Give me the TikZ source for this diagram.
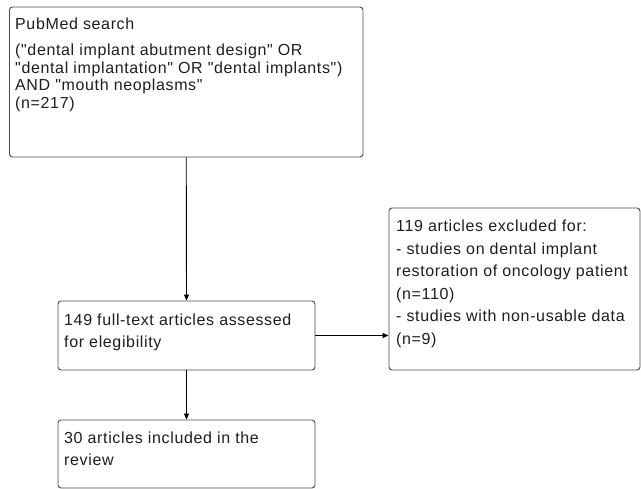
\documentclass[tikz,border=0pt]{standalone}
\usepackage{fontspec}
\newfontfamily\lab{Liberation Sans}[LetterSpace=4.0]
\usetikzlibrary{arrows.meta}
\definecolor{boxline}{HTML}{4A4A4A}
\definecolor{txt}{HTML}{1E1E1E}
\begin{document}
\begin{tikzpicture}[x=1pt,y=-1pt,
  flowbox/.style={draw=boxline,line width=0.9pt,rounded corners=3pt,inner sep=0pt,fill=white},
  boxtext/.style={anchor=base west,inner sep=0pt,text=txt,font=\lab\fontsize{16}{20}\selectfont},
  conn/.style={draw=black,line width=0.9pt,-{Triangle[length=6pt,width=5pt]}}]
\useasboundingbox[fill=white] (0,0) rectangle (641,489);
% boxes
\node[flowbox,minimum width=353.5pt,minimum height=150pt] (search) at (186.25,82) {};
\node[flowbox,minimum width=257pt,minimum height=69pt] (assess) at (186.5,335.5) {};
\node[flowbox,minimum width=257pt,minimum height=68pt] (incl) at (186.5,454) {};
\node[flowbox,minimum width=251pt,minimum height=162pt] (excl) at (514.5,289) {};
% texts
\node[boxtext] (s1) at (15,30) {PubMed search};
\node[boxtext] (s2) at (15,56) {("dental implant abutment design" OR};
\node[boxtext] (s3) at (15,73.5) {"dental implantation" OR "dental implants")};
\node[boxtext] (s4) at (15,91) {AND "mouth neoplasms"};
\node[boxtext] (s5) at (15,108.5) {(n=217)};
\node[boxtext] (a1) at (64,326) {149 full-text articles assessed};
\node[boxtext] (a2) at (64,348) {for elegibility};
\node[boxtext] (i1) at (64,444) {30 articles included in the};
\node[boxtext] (i2) at (64,466) {review};
\node[boxtext] (e1) at (396,232) {119 articles excluded for:};
\node[boxtext] (e2) at (396,254.5) {- studies on dental implant};
\node[boxtext] (e3) at (396,277) {restoration of oncology patient};
\node[boxtext] (e4) at (396,299.5) {(n=110)};
\node[boxtext] (e5) at (396,322) {- studies with non-usable data};
\node[boxtext] (e6) at (396,344.5) {(n=9)};
% connectors
\draw[conn] (search.south) -- (assess.north);
\draw[conn] (assess.south) -- (incl.north);
\draw[conn] (assess.east) -- (excl.west |- assess.east);
\end{tikzpicture}
\end{document}
